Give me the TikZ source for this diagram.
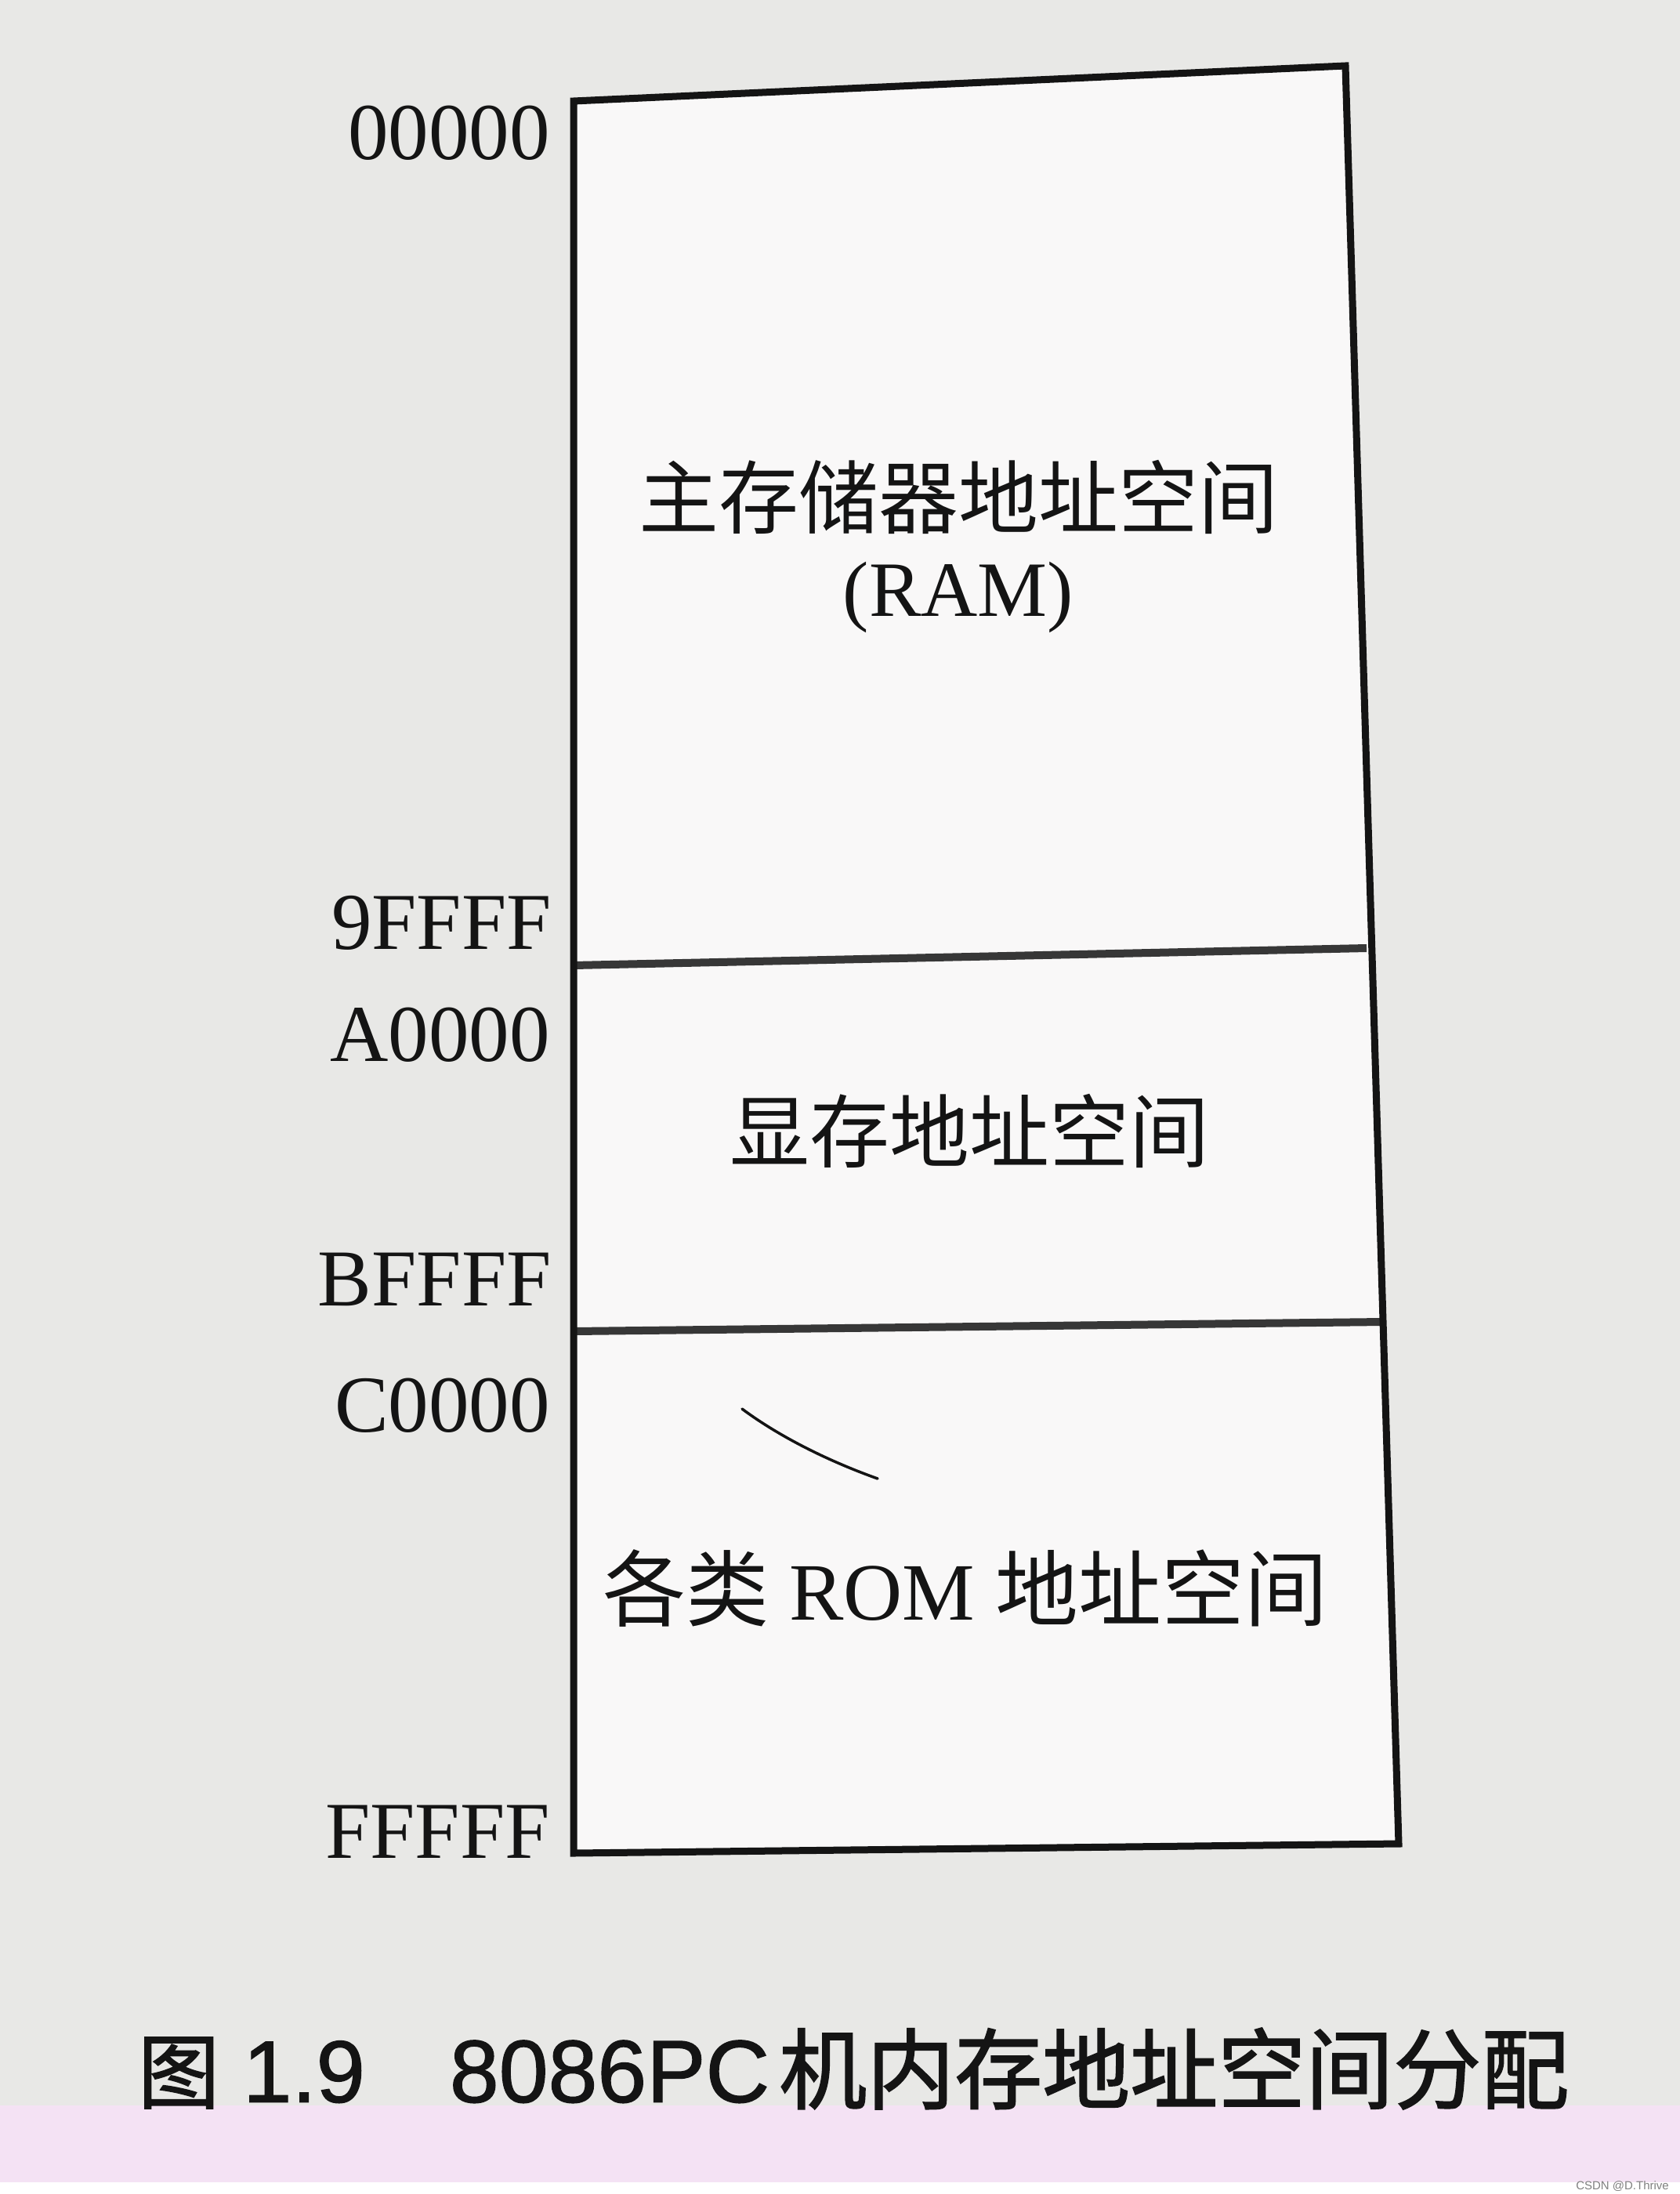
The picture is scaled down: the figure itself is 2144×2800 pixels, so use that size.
\documentclass[tikz,border=0pt]{standalone}
\usepackage{fontspec}
\setmainfont{Liberation Serif}
\newfontfamily\cjk{Noto Sans CJK SC}
\newfontfamily\cjkcap{Noto Sans CJK SC}[FakeBold=1.6]
\newfontfamily\lsans{Liberation Sans}
\newfontfamily\lsanscap{Liberation Sans}[FakeBold=1.2]
\definecolor{paper}{RGB}{232,232,230}
\definecolor{boxin}{RGB}{249,248,248}
\definecolor{pinkband}{RGB}{244,226,244}
\definecolor{ink}{RGB}{20,20,20}
\tikzset{
  boxline/.style={draw=ink, line width=9pt, line join=miter},
  divline/.style={draw=ink!85, line width=10pt},
  addr/.style={anchor=east, inner sep=0pt, text=ink, font=\fontsize{103}{110}\selectfont},
  area/.style={inner sep=0pt, text=ink, font=\cjk\fontsize{102}{110}\selectfont},
  ramtxt/.style={inner sep=0pt, text=ink, font=\fontsize{100}{110}\selectfont},
  captxt/.style={anchor=west, inner sep=0pt, text=ink}
}
\begin{document}
\begin{tikzpicture}[x=1pt,y=-1pt]
\useasboundingbox (0,0) rectangle (2144,2800);
\fill[paper] (0,0) rectangle (2144,2800);
\fill[pinkband] (0,2687) rectangle (2144,2785);
\fill[white] (0,2785) rectangle (2144,2800);
% box corners
\coordinate (TL) at (732,129);
\coordinate (TR) at (1717,84);
\coordinate (BR) at (1785,2353);
\coordinate (BL) at (732,2365);
\coordinate (D1L) at (732,1232);
\coordinate (D1R) at (1744,1210);
\coordinate (D2L) at (732,1699);
\coordinate (D2R) at (1764,1687);
\fill[boxin] (TL)--(TR)--(BR)--(BL)--cycle;
\draw[divline] (D1L) -- (D1R);
\draw[divline] (D2L) -- (D2R);
\draw[boxline] (TL)--(TR)--(BR)--(BL)--cycle;
% address labels
\node[addr] (a1) at (702,170) {00000};
\node[addr] (a2) at (704,1178) {9FFFF};
\node[addr] (a3) at (702,1321) {A0000};
\node[addr] (a4) at (704,1633) {BFFFF};
\node[addr] (a5) at (702,1794) {C0000};
\node[addr] (a6) at (702,2338) {FFFFF};
% area texts
\node[area] (ram) at (1223,634) {主存储器地址空间};
\node[ramtxt] (ram2) at (1223,762) {(RAM)};
\node[area] (vid) at (1237,1443) {显存地址空间};
\node[area, font=\cjk\fontsize{106}{110}\selectfont] (rom) at (1232,2027) {各类\hspace{0.25em}{\rmfamily\fontsize{104}{110}\selectfont ROM}\hspace{0.25em}地址空间};
% pencil stroke
\coordinate (m1) at (947,1798);
\coordinate (m2) at (1120,1887);
\draw[ink, line width=3.5pt, line cap=round] (m1) .. controls (990,1830) and (1050,1862) .. (m2);
% caption
\node[captxt] (cap) at (176,2640) {{\cjkcap\fontsize{104}{110}\selectfont 图}\hspace{30pt}{\lsanscap\fontsize{112}{120}\selectfont 1.9}\hspace{108pt}{\lsanscap\fontsize{113}{120}\selectfont 8086PC}\hspace{12pt}{\cjkcap\fontsize{112}{120}\selectfont 机内存地址空间分配}};
\node[anchor=east, inner sep=0pt, text=gray, font=\lsans\fontsize{15}{16}\selectfont] (wm) at (2130,2790) {CSDN @D.Thrive};
\end{tikzpicture}
\end{document}
